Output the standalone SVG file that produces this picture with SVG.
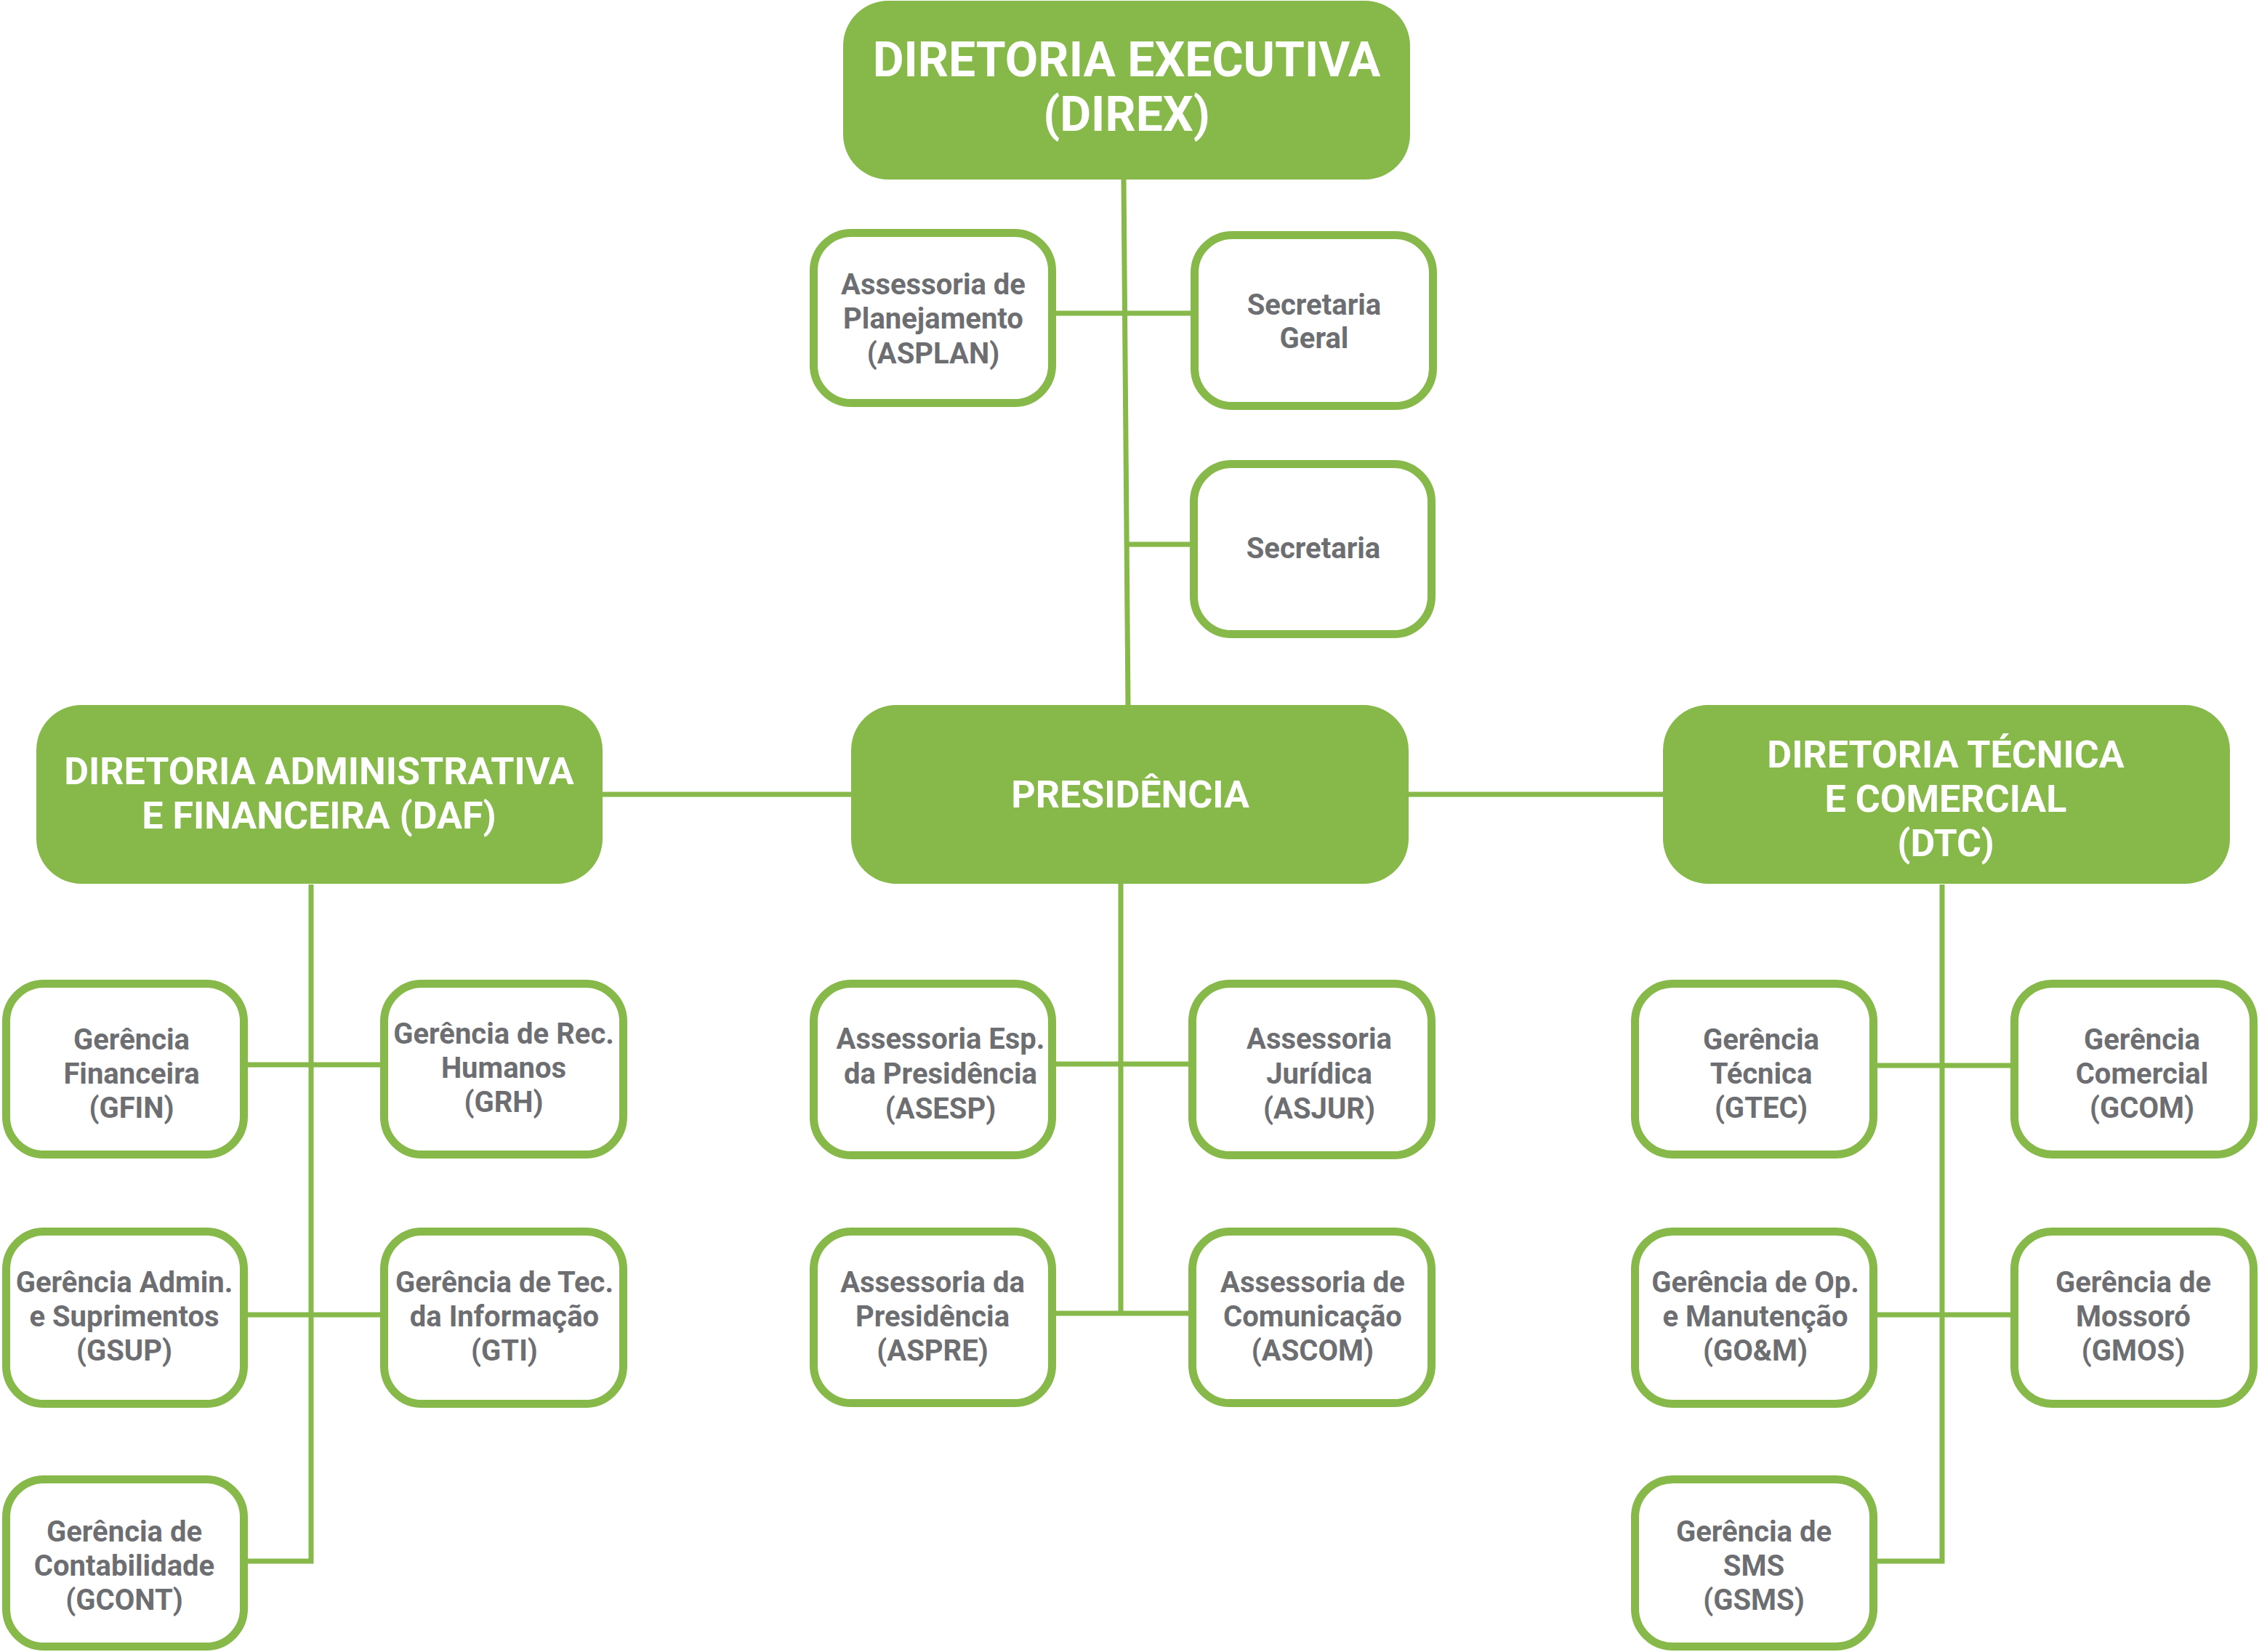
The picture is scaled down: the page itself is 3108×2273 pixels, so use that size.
<svg xmlns="http://www.w3.org/2000/svg" width="3108" height="2273" viewBox="0 0 3108 2273">
<style>
.main{fill:#87b84a}
.sub{fill:#ffffff;stroke:#87b84a;stroke-width:11}
.mt{font-family:Roboto,"Liberation Sans",sans-serif;font-weight:700;fill:#ffffff;text-anchor:middle}
.st{font-family:Roboto,"Liberation Sans",sans-serif;font-weight:700;fill:#6d6e71;text-anchor:middle;font-size:40px}
.ln{fill:none;stroke:#87b84a;stroke-width:7}
</style>
<rect width="3108" height="2273" fill="#ffffff"/>
<g id="connectors">
<path class="ln" d="M1546 247 L1552 973"/>
<path class="ln" d="M1453 431 H1638"/>
<path class="ln" d="M1548 749 H1637"/>
<path class="ln" d="M829 1093 H1171"/>
<path class="ln" d="M1938 1093 H2288"/>
<path class="ln" d="M428 1217 V2148 H341"/>
<path class="ln" d="M341 1465 H523"/>
<path class="ln" d="M341 1809 H523"/>
<path class="ln" d="M1542 1215 V1807"/>
<path class="ln" d="M1453 1464 H1635"/>
<path class="ln" d="M1453 1807 H1635"/>
<path class="ln" d="M2672 1217 V2148 H2583"/>
<path class="ln" d="M2583 1466 H2766"/>
<path class="ln" d="M2583 1809 H2766"/>
</g>
<g id="direx">
<rect class="main" x="1160" y="1" width="780" height="246" rx="62"/>
<text class="mt" font-size="66" x="1550" y="105">DIRETORIA EXECUTIVA</text>
<text class="mt" font-size="66" x="1550" y="180">(DIREX)</text>
</g>
<g id="daf">
<rect class="main" x="50" y="970" width="779" height="246" rx="62"/>
<text class="mt" font-size="52" x="439" y="1079">DIRETORIA ADMINISTRATIVA</text>
<text class="mt" font-size="52" x="439" y="1140">E FINANCEIRA (DAF)</text>
</g>
<g id="presidencia">
<rect class="main" x="1171" y="970" width="767" height="246" rx="62"/>
<text class="mt" font-size="52" x="1555" y="1111">PRESIDÊNCIA</text>
</g>
<g id="dtc">
<rect class="main" x="2288" y="970" width="780" height="246" rx="62"/>
<text class="mt" font-size="52" x="2677" y="1056">DIRETORIA TÉCNICA</text>
<text class="mt" font-size="52" x="2677" y="1117">E COMERCIAL</text>
<text class="mt" font-size="52" x="2677" y="1178">(DTC)</text>
</g>
<g id="asplan">
<rect class="sub" x="1119.5" y="320.5" width="328" height="234" rx="52"/>
<text class="st" x="1284" y="405">Assessoria de</text>
<text class="st" x="1284" y="452">Planejamento</text>
<text class="st" x="1284" y="500">(ASPLAN)</text>
</g>
<g id="secretaria-geral">
<rect class="sub" x="1643.5" y="323.5" width="328" height="235" rx="52"/>
<text class="st" x="1808" y="433">Secretaria</text>
<text class="st" x="1808" y="479">Geral</text>
</g>
<g id="secretaria">
<rect class="sub" x="1642.5" y="638.5" width="327" height="234" rx="52"/>
<text class="st" x="1807" y="768">Secretaria</text>
</g>
<g id="gfin">
<rect class="sub" x="8.5" y="1353.5" width="327" height="235" rx="52"/>
<text class="st" x="181" y="1444">Gerência</text>
<text class="st" x="181" y="1491">Financeira</text>
<text class="st" x="181" y="1538">(GFIN)</text>
</g>
<g id="grh">
<rect class="sub" x="528.5" y="1353.5" width="329" height="235" rx="52"/>
<text class="st" x="693" y="1436">Gerência de Rec.</text>
<text class="st" x="693" y="1483">Humanos</text>
<text class="st" x="693" y="1530">(GRH)</text>
</g>
<g id="gsup">
<rect class="sub" x="8.5" y="1694.5" width="327" height="237" rx="52"/>
<text class="st" x="171" y="1778">Gerência Admin.</text>
<text class="st" x="171" y="1825">e Suprimentos</text>
<text class="st" x="171" y="1872">(GSUP)</text>
</g>
<g id="gti">
<rect class="sub" x="528.5" y="1694.5" width="329" height="237" rx="52"/>
<text class="st" x="694" y="1778">Gerência de Tec.</text>
<text class="st" x="694" y="1825">da Informação</text>
<text class="st" x="694" y="1872">(GTI)</text>
</g>
<g id="gcont">
<rect class="sub" x="8.5" y="2035.5" width="327" height="230" rx="52"/>
<text class="st" x="171" y="2121">Gerência de</text>
<text class="st" x="171" y="2168">Contabilidade</text>
<text class="st" x="171" y="2215">(GCONT)</text>
</g>
<g id="asesp">
<rect class="sub" x="1119.5" y="1353.5" width="328" height="236" rx="52"/>
<text class="st" x="1294" y="1443">Assessoria Esp.</text>
<text class="st" x="1294" y="1491">da Presidência</text>
<text class="st" x="1294" y="1539">(ASESP)</text>
</g>
<g id="asjur">
<rect class="sub" x="1640.5" y="1353.5" width="329" height="236" rx="52"/>
<text class="st" x="1815" y="1443">Assessoria</text>
<text class="st" x="1815" y="1491">Jurídica</text>
<text class="st" x="1815" y="1539">(ASJUR)</text>
</g>
<g id="aspre">
<rect class="sub" x="1119.5" y="1694.5" width="328" height="236" rx="52"/>
<text class="st" x="1283" y="1778">Assessoria da</text>
<text class="st" x="1283" y="1825">Presidência</text>
<text class="st" x="1283" y="1872">(ASPRE)</text>
</g>
<g id="ascom">
<rect class="sub" x="1640.5" y="1694.5" width="329" height="236" rx="52"/>
<text class="st" x="1806" y="1778">Assessoria de</text>
<text class="st" x="1806" y="1825">Comunicação</text>
<text class="st" x="1806" y="1872">(ASCOM)</text>
</g>
<g id="gtec">
<rect class="sub" x="2249.5" y="1353.5" width="328" height="235" rx="52"/>
<text class="st" x="2423" y="1444">Gerência</text>
<text class="st" x="2423" y="1491">Técnica</text>
<text class="st" x="2423" y="1538">(GTEC)</text>
</g>
<g id="gcom">
<rect class="sub" x="2771.5" y="1353.5" width="329" height="235" rx="52"/>
<text class="st" x="2947" y="1444">Gerência</text>
<text class="st" x="2947" y="1491">Comercial</text>
<text class="st" x="2947" y="1538">(GCOM)</text>
</g>
<g id="gom">
<rect class="sub" x="2249.5" y="1694.5" width="328" height="237" rx="52"/>
<text class="st" x="2415" y="1778">Gerência de Op.</text>
<text class="st" x="2415" y="1825">e Manutenção</text>
<text class="st" x="2415" y="1872">(GO&amp;M)</text>
</g>
<g id="gmos">
<rect class="sub" x="2771.5" y="1694.5" width="329" height="237" rx="52"/>
<text class="st" x="2935" y="1778">Gerência de</text>
<text class="st" x="2935" y="1825">Mossoró</text>
<text class="st" x="2935" y="1872">(GMOS)</text>
</g>
<g id="gsms">
<rect class="sub" x="2249.5" y="2035.5" width="328" height="230" rx="52"/>
<text class="st" x="2413" y="2121">Gerência de</text>
<text class="st" x="2413" y="2168">SMS</text>
<text class="st" x="2413" y="2215">(GSMS)</text>
</g>
</svg>
